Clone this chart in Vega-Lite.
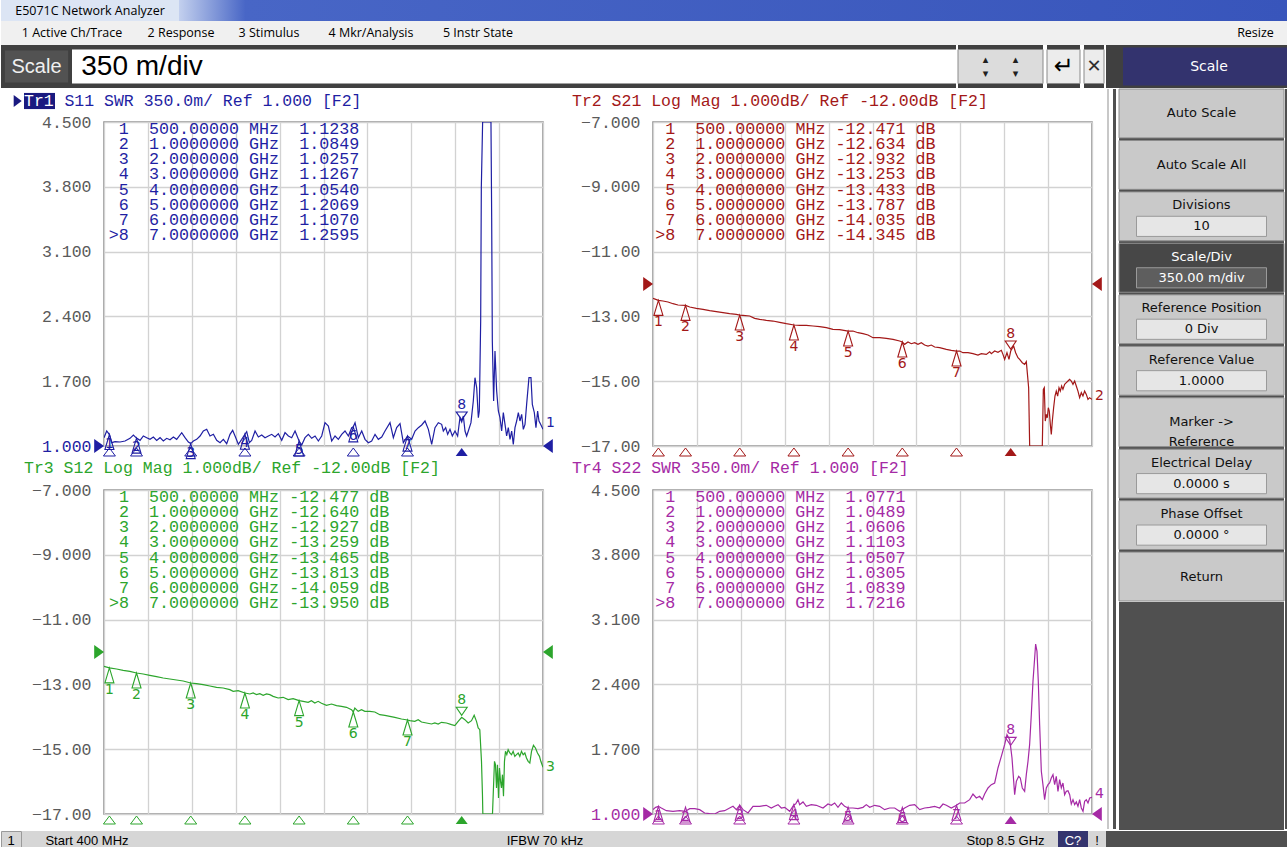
{
"$schema": "https://vega.github.io/schema/vega-lite/v6.json",
"padding": 0,
"background": "white",
"autosize": {"type": "pad"},
"config": {
  "view": {"stroke": null},
  "axis": {"domain": false, "ticks": false, "grid": true, "gridColor": "#d2d2d2", "gridWidth": 1.3, "labelFont": "Liberation Mono", "labelFontSize": 16.5, "labelPadding": 13, "labelFlush": false, "labelOverlap": false, "labelColor": "#5a5a5a"},
  "text": {"color": "#000000"}
},
"datasets": {
"t1": [{"f":0.4,"v":1.09},{"f":0.45,"v":1.162},{"f":0.5,"v":1.124},{"f":0.542,"v":1.036},{"f":0.604,"v":1.047},{"f":0.696,"v":1.043},{"f":0.788,"v":1.054},{"f":0.88,"v":1.083},{"f":0.942,"v":1.119},{"f":1.0,"v":1.085},{"f":1.065,"v":1.061},{"f":1.126,"v":1.108},{"f":1.188,"v":1.09},{"f":1.249,"v":1.072},{"f":1.311,"v":1.097},{"f":1.372,"v":1.061},{"f":1.434,"v":1.09},{"f":1.495,"v":1.054},{"f":1.557,"v":1.083},{"f":1.618,"v":1.068},{"f":1.68,"v":1.097},{"f":1.741,"v":1.072},{"f":1.834,"v":1.144},{"f":1.895,"v":1.09},{"f":1.957,"v":1.043},{"f":2.0,"v":1.026},{"f":2.049,"v":1.054},{"f":2.11,"v":1.072},{"f":2.172,"v":1.108},{"f":2.233,"v":1.162},{"f":2.295,"v":1.18},{"f":2.356,"v":1.108},{"f":2.418,"v":1.126},{"f":2.479,"v":1.061},{"f":2.541,"v":1.036},{"f":2.602,"v":1.072},{"f":2.664,"v":1.025},{"f":2.725,"v":1.126},{"f":2.774,"v":1.169},{"f":2.818,"v":1.108},{"f":2.879,"v":1.018},{"f":2.941,"v":1.072},{"f":3.0,"v":1.127},{"f":3.033,"v":1.155},{"f":3.082,"v":1.036},{"f":3.125,"v":1.061},{"f":3.187,"v":1.162},{"f":3.248,"v":1.097},{"f":3.31,"v":1.119},{"f":3.371,"v":1.09},{"f":3.433,"v":1.108},{"f":3.494,"v":1.126},{"f":3.556,"v":1.097},{"f":3.617,"v":1.133},{"f":3.679,"v":1.061},{"f":3.74,"v":1.144},{"f":3.802,"v":1.108},{"f":3.863,"v":1.09},{"f":3.925,"v":1.162},{"f":4.0,"v":1.054},{"f":4.048,"v":1.011},{"f":4.109,"v":1.09},{"f":4.171,"v":1.126},{"f":4.232,"v":1.083},{"f":4.294,"v":1.108},{"f":4.355,"v":1.054},{"f":4.417,"v":1.108},{"f":4.478,"v":1.252},{"f":4.54,"v":1.216},{"f":4.601,"v":1.054},{"f":4.663,"v":1.108},{"f":4.724,"v":1.072},{"f":4.786,"v":1.126},{"f":4.847,"v":1.162},{"f":4.909,"v":1.108},{"f":4.97,"v":1.198},{"f":5.0,"v":1.207},{"f":5.032,"v":1.252},{"f":5.093,"v":1.09},{"f":5.155,"v":1.162},{"f":5.216,"v":1.072},{"f":5.278,"v":1.036},{"f":5.339,"v":1.054},{"f":5.401,"v":1.126},{"f":5.462,"v":1.072},{"f":5.524,"v":1.097},{"f":5.585,"v":1.162},{"f":5.677,"v":1.252},{"f":5.739,"v":1.09},{"f":5.8,"v":1.198},{"f":5.862,"v":1.241},{"f":5.923,"v":1.036},{"f":6.0,"v":1.107},{"f":6.077,"v":1.072},{"f":6.139,"v":1.162},{"f":6.2,"v":1.198},{"f":6.262,"v":1.227},{"f":6.323,"v":1.27},{"f":6.385,"v":1.18},{"f":6.446,"v":1.018},{"f":6.507,"v":1.198},{"f":6.569,"v":1.252},{"f":6.63,"v":1.234},{"f":6.661,"v":1.162},{"f":6.704,"v":1.198},{"f":6.741,"v":1.126},{"f":6.784,"v":1.18},{"f":6.827,"v":1.108},{"f":6.876,"v":1.162},{"f":6.925,"v":1.108},{"f":6.968,"v":1.306},{"f":7.0,"v":1.26},{"f":7.03,"v":1.324},{"f":7.061,"v":1.162},{"f":7.091,"v":1.108},{"f":7.122,"v":1.162},{"f":7.171,"v":1.252},{"f":7.214,"v":1.486},{"f":7.245,"v":1.738},{"f":7.276,"v":1.63},{"f":7.307,"v":1.306},{"f":7.325,"v":1.378},{"f":7.35,"v":2.35},{"f":7.362,"v":3.79},{"f":7.386,"v":4.5},{"f":7.54,"v":4.5},{"f":7.553,"v":3.466},{"f":7.565,"v":2.134},{"f":7.589,"v":1.486},{"f":7.614,"v":2.026},{"f":7.645,"v":1.594},{"f":7.676,"v":1.378},{"f":7.706,"v":1.306},{"f":7.737,"v":1.162},{"f":7.768,"v":1.36},{"f":7.799,"v":1.234},{"f":7.829,"v":1.108},{"f":7.86,"v":1.198},{"f":7.891,"v":1.072},{"f":7.922,"v":1.162},{"f":7.952,"v":1.018},{"f":7.983,"v":1.198},{"f":8.014,"v":1.27},{"f":8.045,"v":1.36},{"f":8.075,"v":1.27},{"f":8.106,"v":1.342},{"f":8.137,"v":1.18},{"f":8.168,"v":1.234},{"f":8.198,"v":1.45},{"f":8.241,"v":1.738},{"f":8.278,"v":1.738},{"f":8.303,"v":1.45},{"f":8.34,"v":1.36},{"f":8.37,"v":1.198},{"f":8.401,"v":1.378},{"f":8.426,"v":1.27},{"f":8.456,"v":1.234},{"f":8.5,"v":1.18}],
"t2": [{"f":0.4,"v":-12.443},{"f":0.5,"v":-12.505},{"f":0.584,"v":-12.525},{"f":0.677,"v":-12.556},{"f":0.769,"v":-12.608},{"f":0.861,"v":-12.649},{"f":1.0,"v":-12.66},{"f":1.077,"v":-12.711},{"f":1.2,"v":-12.752},{"f":1.323,"v":-12.783},{"f":1.446,"v":-12.824},{"f":1.568,"v":-12.855},{"f":1.691,"v":-12.886},{"f":1.814,"v":-12.916},{"f":1.937,"v":-12.937},{"f":2.0,"v":-12.958},{"f":2.061,"v":-12.968},{"f":2.184,"v":-12.988},{"f":2.276,"v":-13.06},{"f":2.368,"v":-13.091},{"f":2.491,"v":-13.122},{"f":2.614,"v":-13.143},{"f":2.737,"v":-13.184},{"f":2.86,"v":-13.225},{"f":3.0,"v":-13.266},{"f":3.106,"v":-13.276},{"f":3.229,"v":-13.276},{"f":3.352,"v":-13.297},{"f":3.475,"v":-13.318},{"f":3.598,"v":-13.349},{"f":3.721,"v":-13.4},{"f":3.844,"v":-13.41},{"f":4.0,"v":-13.452},{"f":4.09,"v":-13.452},{"f":4.182,"v":-13.503},{"f":4.275,"v":-13.534},{"f":4.367,"v":-13.575},{"f":4.459,"v":-13.657},{"f":4.582,"v":-13.657},{"f":4.705,"v":-13.678},{"f":4.828,"v":-13.709},{"f":4.951,"v":-13.76},{"f":5.0,"v":-13.791},{"f":5.043,"v":-13.863},{"f":5.105,"v":-13.791},{"f":5.166,"v":-13.843},{"f":5.228,"v":-13.812},{"f":5.289,"v":-13.863},{"f":5.351,"v":-13.812},{"f":5.412,"v":-13.884},{"f":5.474,"v":-13.915},{"f":5.535,"v":-13.884},{"f":5.597,"v":-13.945},{"f":5.689,"v":-13.966},{"f":5.812,"v":-14.017},{"f":5.904,"v":-14.048},{"f":6.0,"v":-14.069},{"f":6.058,"v":-14.069},{"f":6.119,"v":-14.12},{"f":6.212,"v":-14.12},{"f":6.304,"v":-14.151},{"f":6.396,"v":-14.192},{"f":6.458,"v":-14.151},{"f":6.55,"v":-14.172},{"f":6.612,"v":-14.09},{"f":6.642,"v":-14.151},{"f":6.704,"v":-14.069},{"f":6.765,"v":-14.11},{"f":6.827,"v":-14.048},{"f":6.857,"v":-14.172},{"f":6.888,"v":-14.326},{"f":6.931,"v":-14.12},{"f":6.968,"v":-14.326},{"f":7.0,"v":-14.07},{"f":7.054,"v":-13.915},{"f":7.091,"v":-14.12},{"f":7.134,"v":-14.275},{"f":7.165,"v":-14.326},{"f":7.214,"v":-14.429},{"f":7.257,"v":-14.481},{"f":7.288,"v":-14.398},{"f":7.331,"v":-15.201},{"f":7.35,"v":-17},{"f":7.583,"v":-17},{"f":7.602,"v":-15.252},{"f":7.62,"v":-15.201},{"f":7.638,"v":-16.23},{"f":7.657,"v":-16.024},{"f":7.675,"v":-16.127},{"f":7.694,"v":-15.818},{"f":7.712,"v":-15.921},{"f":7.731,"v":-16.333},{"f":7.749,"v":-16.641},{"f":7.768,"v":-16.23},{"f":7.792,"v":-15.818},{"f":7.817,"v":-15.458},{"f":7.841,"v":-15.304},{"f":7.866,"v":-15.458},{"f":7.891,"v":-15.201},{"f":7.915,"v":-15.304},{"f":7.94,"v":-15.149},{"f":7.964,"v":-15.252},{"f":7.995,"v":-15.098},{"f":8.026,"v":-15.046},{"f":8.057,"v":-14.995},{"f":8.087,"v":-14.944},{"f":8.118,"v":-14.995},{"f":8.149,"v":-15.098},{"f":8.18,"v":-14.995},{"f":8.21,"v":-15.149},{"f":8.241,"v":-15.304},{"f":8.272,"v":-15.509},{"f":8.303,"v":-15.355},{"f":8.333,"v":-15.458},{"f":8.364,"v":-15.304},{"f":8.395,"v":-15.407},{"f":8.426,"v":-15.561},{"f":8.456,"v":-15.509},{"f":8.5,"v":-15.561}],
"t3": [{"f":0.4,"v":-12.442},{"f":0.5,"v":-12.49},{"f":0.631,"v":-12.524},{"f":0.754,"v":-12.565},{"f":0.877,"v":-12.596},{"f":1.0,"v":-12.648},{"f":1.123,"v":-12.678},{"f":1.246,"v":-12.72},{"f":1.369,"v":-12.761},{"f":1.492,"v":-12.802},{"f":1.615,"v":-12.833},{"f":1.738,"v":-12.864},{"f":1.861,"v":-12.895},{"f":2.0,"v":-12.956},{"f":2.107,"v":-12.977},{"f":2.23,"v":-13.008},{"f":2.353,"v":-13.049},{"f":2.476,"v":-13.09},{"f":2.599,"v":-13.111},{"f":2.722,"v":-13.162},{"f":2.783,"v":-13.214},{"f":2.875,"v":-13.193},{"f":3.0,"v":-13.265},{"f":3.091,"v":-13.296},{"f":3.152,"v":-13.265},{"f":3.214,"v":-13.316},{"f":3.275,"v":-13.286},{"f":3.337,"v":-13.337},{"f":3.398,"v":-13.296},{"f":3.46,"v":-13.316},{"f":3.521,"v":-13.368},{"f":3.613,"v":-13.419},{"f":3.706,"v":-13.399},{"f":3.798,"v":-13.471},{"f":3.89,"v":-13.44},{"f":4.0,"v":-13.502},{"f":4.075,"v":-13.522},{"f":4.167,"v":-13.553},{"f":4.228,"v":-13.502},{"f":4.29,"v":-13.574},{"f":4.351,"v":-13.522},{"f":4.413,"v":-13.584},{"f":4.505,"v":-13.646},{"f":4.598,"v":-13.605},{"f":4.69,"v":-13.656},{"f":4.782,"v":-13.677},{"f":4.874,"v":-13.707},{"f":4.967,"v":-13.779},{"f":5.0,"v":-13.851},{"f":5.028,"v":-13.728},{"f":5.09,"v":-13.831},{"f":5.151,"v":-13.779},{"f":5.213,"v":-13.831},{"f":5.305,"v":-13.831},{"f":5.397,"v":-13.851},{"f":5.489,"v":-13.934},{"f":5.582,"v":-13.954},{"f":5.674,"v":-13.985},{"f":5.766,"v":-14.016},{"f":5.889,"v":-14.068},{"f":6.0,"v":-14.098},{"f":6.043,"v":-14.119},{"f":6.135,"v":-14.14},{"f":6.197,"v":-14.088},{"f":6.258,"v":-14.16},{"f":6.35,"v":-14.191},{"f":6.443,"v":-14.222},{"f":6.504,"v":-14.191},{"f":6.566,"v":-14.222},{"f":6.627,"v":-14.17},{"f":6.719,"v":-14.191},{"f":6.812,"v":-14.243},{"f":6.873,"v":-14.273},{"f":6.935,"v":-14.14},{"f":7.0,"v":-14.016},{"f":7.058,"v":-14.088},{"f":7.119,"v":-14.191},{"f":7.181,"v":-14.119},{"f":7.23,"v":-13.954},{"f":7.273,"v":-14.14},{"f":7.304,"v":-14.345},{"f":7.334,"v":-14.397},{"f":7.365,"v":-15.374},{"f":7.383,"v":-16.403},{"f":7.39,"v":-17},{"f":7.568,"v":-17},{"f":7.586,"v":-16.198},{"f":7.605,"v":-15.374},{"f":7.623,"v":-15.477},{"f":7.642,"v":-16.198},{"f":7.66,"v":-15.477},{"f":7.679,"v":-16.506},{"f":7.697,"v":-15.58},{"f":7.716,"v":-15.992},{"f":7.734,"v":-16.198},{"f":7.752,"v":-15.786},{"f":7.771,"v":-16.455},{"f":7.789,"v":-15.374},{"f":7.808,"v":-15.066},{"f":7.832,"v":-15.169},{"f":7.857,"v":-15.014},{"f":7.888,"v":-15.117},{"f":7.919,"v":-15.169},{"f":7.949,"v":-15.066},{"f":7.98,"v":-15.22},{"f":8.011,"v":-15.169},{"f":8.042,"v":-15.117},{"f":8.072,"v":-15.22},{"f":8.103,"v":-15.066},{"f":8.134,"v":-15.169},{"f":8.165,"v":-15.117},{"f":8.195,"v":-15.272},{"f":8.226,"v":-15.374},{"f":8.257,"v":-15.426},{"f":8.288,"v":-15.066},{"f":8.324,"v":-14.88},{"f":8.361,"v":-14.963},{"f":8.398,"v":-15.117},{"f":8.435,"v":-15.22},{"f":8.46,"v":-15.374},{"f":8.5,"v":-15.56}],
"t4": [{"f":0.4,"v":1.047},{"f":0.449,"v":1.072},{"f":0.5,"v":1.083},{"f":0.554,"v":1.065},{"f":0.646,"v":1.036},{"f":0.769,"v":1.029},{"f":0.892,"v":1.036},{"f":1.0,"v":1.03},{"f":1.077,"v":1.058},{"f":1.169,"v":1.058},{"f":1.261,"v":1.047},{"f":1.353,"v":1.011},{"f":1.446,"v":1.004},{"f":1.538,"v":1.0},{"f":1.63,"v":1.029},{"f":1.722,"v":1.036},{"f":1.814,"v":1.065},{"f":1.876,"v":1.083},{"f":1.938,"v":1.047},{"f":2.0,"v":1.094},{"f":2.061,"v":1.047},{"f":2.153,"v":1.011},{"f":2.245,"v":1.083},{"f":2.368,"v":1.083},{"f":2.491,"v":1.094},{"f":2.583,"v":1.065},{"f":2.645,"v":1.083},{"f":2.707,"v":1.101},{"f":2.768,"v":1.065},{"f":2.83,"v":1.072},{"f":2.922,"v":1.029},{"f":3.0,"v":1.101},{"f":3.032,"v":1.108},{"f":3.075,"v":1.155},{"f":3.106,"v":1.101},{"f":3.168,"v":1.13},{"f":3.229,"v":1.083},{"f":3.321,"v":1.101},{"f":3.413,"v":1.094},{"f":3.537,"v":1.065},{"f":3.629,"v":1.108},{"f":3.69,"v":1.094},{"f":3.752,"v":1.119},{"f":3.813,"v":1.072},{"f":3.875,"v":1.119},{"f":3.936,"v":1.083},{"f":4.0,"v":1.065},{"f":4.09,"v":1.065},{"f":4.182,"v":1.058},{"f":4.275,"v":1.072},{"f":4.336,"v":1.101},{"f":4.398,"v":1.072},{"f":4.49,"v":1.094},{"f":4.582,"v":1.083},{"f":4.674,"v":1.047},{"f":4.766,"v":1.065},{"f":4.859,"v":1.065},{"f":4.951,"v":1.029},{"f":5.0,"v":1.045},{"f":5.043,"v":1.065},{"f":5.136,"v":1.094},{"f":5.228,"v":1.101},{"f":5.32,"v":1.047},{"f":5.412,"v":1.065},{"f":5.505,"v":1.072},{"f":5.597,"v":1.083},{"f":5.689,"v":1.065},{"f":5.751,"v":1.108},{"f":5.812,"v":1.094},{"f":5.904,"v":1.065},{"f":6.0,"v":1.094},{"f":6.058,"v":1.119},{"f":6.15,"v":1.119},{"f":6.243,"v":1.155},{"f":6.304,"v":1.216},{"f":6.366,"v":1.173},{"f":6.427,"v":1.191},{"f":6.476,"v":1.155},{"f":6.519,"v":1.216},{"f":6.581,"v":1.281},{"f":6.642,"v":1.317},{"f":6.704,"v":1.335},{"f":6.765,"v":1.497},{"f":6.827,"v":1.623},{"f":6.888,"v":1.749},{"f":6.931,"v":1.857},{"f":6.981,"v":1.803},{"f":7.0,"v":1.72},{"f":7.024,"v":1.605},{"f":7.073,"v":1.209},{"f":7.104,"v":1.353},{"f":7.147,"v":1.407},{"f":7.177,"v":1.389},{"f":7.214,"v":1.281},{"f":7.257,"v":1.245},{"f":7.288,"v":1.425},{"f":7.319,"v":1.569},{"f":7.349,"v":1.749},{"f":7.38,"v":2.073},{"f":7.411,"v":2.433},{"f":7.442,"v":2.685},{"f":7.46,"v":2.836},{"f":7.485,"v":2.757},{"f":7.509,"v":2.433},{"f":7.534,"v":1.965},{"f":7.565,"v":1.461},{"f":7.595,"v":1.317},{"f":7.626,"v":1.155},{"f":7.657,"v":1.281},{"f":7.688,"v":1.317},{"f":7.718,"v":1.335},{"f":7.749,"v":1.389},{"f":7.78,"v":1.425},{"f":7.811,"v":1.317},{"f":7.841,"v":1.407},{"f":7.872,"v":1.245},{"f":7.903,"v":1.371},{"f":7.934,"v":1.281},{"f":7.964,"v":1.335},{"f":7.995,"v":1.209},{"f":8.026,"v":1.245},{"f":8.057,"v":1.252},{"f":8.088,"v":1.209},{"f":8.118,"v":1.108},{"f":8.149,"v":1.155},{"f":8.18,"v":1.101},{"f":8.211,"v":1.13},{"f":8.241,"v":1.083},{"f":8.272,"v":1.155},{"f":8.303,"v":1.065},{"f":8.334,"v":1.029},{"f":8.364,"v":1.137},{"f":8.395,"v":1.155},{"f":8.426,"v":1.119},{"f":8.457,"v":1.173},{"f":8.5,"v":1.18}],
"m1": [{"m":1,"f":0.5,"v":1.124,"row":"\u00a01\u00a0\u00a0500.00000\u00a0MHz\u00a0\u00a01.1238"},{"m":2,"f":1,"v":1.085,"row":"\u00a02\u00a0\u00a01.0000000\u00a0GHz\u00a0\u00a01.0849"},{"m":3,"f":2,"v":1.026,"row":"\u00a03\u00a0\u00a02.0000000\u00a0GHz\u00a0\u00a01.0257"},{"m":4,"f":3,"v":1.127,"row":"\u00a04\u00a0\u00a03.0000000\u00a0GHz\u00a0\u00a01.1267"},{"m":5,"f":4,"v":1.054,"row":"\u00a05\u00a0\u00a04.0000000\u00a0GHz\u00a0\u00a01.0540"},{"m":6,"f":5,"v":1.207,"row":"\u00a06\u00a0\u00a05.0000000\u00a0GHz\u00a0\u00a01.2069"},{"m":7,"f":6,"v":1.107,"row":"\u00a07\u00a0\u00a06.0000000\u00a0GHz\u00a0\u00a01.1070"},{"m":8,"f":7,"v":1.26,"row":">8\u00a0\u00a07.0000000\u00a0GHz\u00a0\u00a01.2595"}],
"m2": [{"m":1,"f":0.5,"v":-12.505,"row":"\u00a01\u00a0\u00a0500.00000\u00a0MHz\u00a0-12.471\u00a0dB"},{"m":2,"f":1,"v":-12.66,"row":"\u00a02\u00a0\u00a01.0000000\u00a0GHz\u00a0-12.634\u00a0dB"},{"m":3,"f":2,"v":-12.958,"row":"\u00a03\u00a0\u00a02.0000000\u00a0GHz\u00a0-12.932\u00a0dB"},{"m":4,"f":3,"v":-13.266,"row":"\u00a04\u00a0\u00a03.0000000\u00a0GHz\u00a0-13.253\u00a0dB"},{"m":5,"f":4,"v":-13.452,"row":"\u00a05\u00a0\u00a04.0000000\u00a0GHz\u00a0-13.433\u00a0dB"},{"m":6,"f":5,"v":-13.791,"row":"\u00a06\u00a0\u00a05.0000000\u00a0GHz\u00a0-13.787\u00a0dB"},{"m":7,"f":6,"v":-14.069,"row":"\u00a07\u00a0\u00a06.0000000\u00a0GHz\u00a0-14.035\u00a0dB"},{"m":8,"f":7,"v":-14.07,"row":">8\u00a0\u00a07.0000000\u00a0GHz\u00a0-14.345\u00a0dB"}],
"m3": [{"m":1,"f":0.5,"v":-12.49,"row":"\u00a01\u00a0\u00a0500.00000\u00a0MHz\u00a0-12.477\u00a0dB"},{"m":2,"f":1,"v":-12.648,"row":"\u00a02\u00a0\u00a01.0000000\u00a0GHz\u00a0-12.640\u00a0dB"},{"m":3,"f":2,"v":-12.956,"row":"\u00a03\u00a0\u00a02.0000000\u00a0GHz\u00a0-12.927\u00a0dB"},{"m":4,"f":3,"v":-13.265,"row":"\u00a04\u00a0\u00a03.0000000\u00a0GHz\u00a0-13.259\u00a0dB"},{"m":5,"f":4,"v":-13.502,"row":"\u00a05\u00a0\u00a04.0000000\u00a0GHz\u00a0-13.465\u00a0dB"},{"m":6,"f":5,"v":-13.851,"row":"\u00a06\u00a0\u00a05.0000000\u00a0GHz\u00a0-13.813\u00a0dB"},{"m":7,"f":6,"v":-14.098,"row":"\u00a07\u00a0\u00a06.0000000\u00a0GHz\u00a0-14.059\u00a0dB"},{"m":8,"f":7,"v":-14.016,"row":">8\u00a0\u00a07.0000000\u00a0GHz\u00a0-13.950\u00a0dB"}],
"m4": [{"m":1,"f":0.5,"v":1.083,"row":"\u00a01\u00a0\u00a0500.00000\u00a0MHz\u00a0\u00a01.0771"},{"m":2,"f":1,"v":1.075,"row":"\u00a02\u00a0\u00a01.0000000\u00a0GHz\u00a0\u00a01.0489"},{"m":3,"f":2,"v":1.094,"row":"\u00a03\u00a0\u00a02.0000000\u00a0GHz\u00a0\u00a01.0606"},{"m":4,"f":3,"v":1.101,"row":"\u00a04\u00a0\u00a03.0000000\u00a0GHz\u00a0\u00a01.1103"},{"m":5,"f":4,"v":1.075,"row":"\u00a05\u00a0\u00a04.0000000\u00a0GHz\u00a0\u00a01.0507"},{"m":6,"f":5,"v":1.07,"row":"\u00a06\u00a0\u00a05.0000000\u00a0GHz\u00a0\u00a01.0305"},{"m":7,"f":6,"v":1.094,"row":"\u00a07\u00a0\u00a06.0000000\u00a0GHz\u00a0\u00a01.0839"},{"m":8,"f":7,"v":1.72,"row":">8\u00a0\u00a07.0000000\u00a0GHz\u00a0\u00a01.7216"}]
},
"spacing": 0,
"vconcat": [
  {"hconcat": [
    {"width": 178, "height": 21, "view": {"fill": "#dce5f4"}, "data": {"values": [{"t": "E5071C Network Analyzer"}]},
     "mark": {"type": "text", "font": "Open Sans", "fontSize": 12.5}, "encoding": {"text": {"field": "t", "type": "nominal"}}},
    {"width": 1109, "height": 21, "data": {"values": [{}]},
     "mark": {"type": "rect", "color": {"gradient": "linear", "x1": 0, "x2": 1, "y1": 0, "y2": 0, "stops": [{"offset": 0, "color": "#c3d0ee"}, {"offset": 0.06, "color": "#4866c6"}, {"offset": 1, "color": "#3855bb"}]}}}
  ], "spacing": 0},
  {"hconcat": [
    {"width": 142, "height": 24, "view": {"fill": "#f0f0f0"}, "data": {"values": [{"t": "1 Active Ch/Trace"}]}, "mark": {"type": "text", "font": "Open Sans", "fontSize": 12.5}, "encoding": {"text": {"field": "t", "type": "nominal"}}},
    {"width": 76, "height": 24, "view": {"fill": "#f0f0f0"}, "data": {"values": [{"t": "2 Response"}]}, "mark": {"type": "text", "font": "Open Sans", "fontSize": 12.5}, "encoding": {"text": {"field": "t", "type": "nominal"}}},
    {"width": 100, "height": 24, "view": {"fill": "#f0f0f0"}, "data": {"values": [{"t": "3 Stimulus"}]}, "mark": {"type": "text", "font": "Open Sans", "fontSize": 12.5}, "encoding": {"text": {"field": "t", "type": "nominal"}}},
    {"width": 104, "height": 24, "view": {"fill": "#f0f0f0"}, "data": {"values": [{"t": "4 Mkr/Analysis"}]}, "mark": {"type": "text", "font": "Open Sans", "fontSize": 12.5}, "encoding": {"text": {"field": "t", "type": "nominal"}}},
    {"width": 110, "height": 24, "view": {"fill": "#f0f0f0"}, "data": {"values": [{"t": "5 Instr State"}]}, "mark": {"type": "text", "font": "Open Sans", "fontSize": 12.5}, "encoding": {"text": {"field": "t", "type": "nominal"}}},
    {"width": 690, "height": 24, "view": {"fill": "#f0f0f0"}, "data": {"values": [{}]}, "mark": {"type": "point", "opacity": 0}},
    {"width": 65, "height": 24, "view": {"fill": "#f0f0f0"}, "data": {"values": [{"t": "Resize"}]}, "mark": {"type": "text", "font": "Open Sans", "fontSize": 12.5}, "encoding": {"text": {"field": "t", "type": "nominal"}}}
  ], "spacing": 0},
  {"hconcat": [
    {"width": 71, "height": 43, "view": {"fill": "#404040"}, "data": {"values": [{"t": "Scale"}]},
     "layer": [
       {"mark": {"type": "point", "shape": "M-0.89,-0.45L0.89,-0.45L0.89,0.45L-0.89,0.45Z", "size": 5041, "filled": true, "color": "#525252", "opacity": 1}},
       {"mark": {"type": "text", "font": "Liberation Sans", "fontSize": 20, "color": "#f0f0f0"}, "encoding": {"text": {"field": "t", "type": "nominal"}}}
     ]},
    {"width": 140, "height": 43, "view": {"fill": "#404040"}, "data": {"values": [{"t": "350 m/div"}]},
     "layer": [
       {"mark": {"type": "point", "shape": "M-1,-0.243L1,-0.243L1,0.243L-1,0.243Z", "size": 19600, "filled": true, "color": "#ffffff", "opacity": 1}},
       {"mark": {"type": "text", "font": "Liberation Sans", "fontSize": 28}, "encoding": {"text": {"field": "t", "type": "nominal"}}}
     ]},
    {"width": 744, "height": 43, "view": {"fill": "#404040"}, "data": {"values": [{}]},
     "mark": {"type": "point", "shape": "M-1,-0.0457L1,-0.0457L1,0.0457L-1,0.0457Z", "size": 553536, "filled": true, "color": "#ffffff", "opacity": 1}},
    {"width": 85, "height": 43, "view": {"fill": "#404040"}, "data": {"values": [{"u": "\u25b4\u00a0\u00a0\u00a0\u00a0\u00a0\u00a0\u00a0\u25b4", "d": "\u25be\u00a0\u00a0\u00a0\u00a0\u00a0\u00a0\u00a0\u25be"}]},
     "layer": [
       {"mark": {"type": "point", "shape": "M-1,-0.4L1,-0.4L1,0.4L-1,0.4Z", "size": 7225, "filled": true, "color": "#dcdcdc", "stroke": "#8a8a8a", "strokeWidth": 1, "opacity": 1}},
       {"mark": {"type": "text", "font": "DejaVu Sans", "fontSize": 11, "dy": -7, "color": "#202020"}, "encoding": {"text": {"field": "u", "type": "nominal"}}},
       {"mark": {"type": "text", "font": "DejaVu Sans", "fontSize": 11, "dy": 7, "color": "#202020"}, "encoding": {"text": {"field": "d", "type": "nominal"}}}
     ]},
    {"width": 33, "height": 43, "view": {"fill": "#404040"}, "data": {"values": [{"t": "\u21b5"}]},
     "layer": [
       {"mark": {"type": "point", "shape": "M-1,-1.03L1,-1.03L1,1.03L-1,1.03Z", "size": 1089, "filled": true, "color": "#ececec", "stroke": "#8a8a8a", "strokeWidth": 1, "opacity": 1}},
       {"mark": {"type": "text", "font": "DejaVu Sans", "fontSize": 24, "color": "#000000"}, "encoding": {"text": {"field": "t", "type": "nominal"}}}
     ]},
    {"width": 20, "height": 43, "view": {"fill": "#404040"}, "data": {"values": [{"t": "\u2715"}]},
     "layer": [
       {"mark": {"type": "point", "shape": "M-1,-1.7L1,-1.7L1,1.7L-1,1.7Z", "size": 400, "filled": true, "color": "#ececec", "stroke": "#8a8a8a", "strokeWidth": 1, "opacity": 1}},
       {"mark": {"type": "text", "font": "DejaVu Sans", "fontSize": 18, "color": "#303030"}, "encoding": {"text": {"field": "t", "type": "nominal"}}}
     ]},
    {"width": 17, "height": 43, "view": {"fill": "#404040"}, "data": {"values": [{}]}, "mark": {"type": "point", "opacity": 0}},
    {"width": 172, "height": 43, "view": {"fill": "#404040"}, "data": {"values": [{"t": "Scale"}]},
     "layer": [
       {"mark": {"type": "point", "shape": "M-1,-0.221L1,-0.221L1,0.221L-1,0.221Z", "size": 29584, "filled": true, "color": "#33336e", "opacity": 1}},
       {"mark": {"type": "text", "font": "DejaVu Sans", "fontSize": 14, "color": "#ffffff"}, "encoding": {"text": {"field": "t", "type": "nominal"}}}
     ]},
    {"width": 5, "height": 43, "view": {"fill": "#404040"}, "data": {"values": [{}]}, "mark": {"type": "point", "opacity": 0}}
  ], "spacing": 0},
  {"hconcat": [
    {"width": 12, "height": 740, "data": {"values": [{}]}, "mark": {"type": "point", "opacity": 0}},
    {"hconcat": [
      {"vconcat": [
        {"width": 439, "height": 24,
         "layer": [
           {"data": {"values": [{}]}, "mark": {"type": "point", "shape": "M-1,-0.52L1,-0.52L1,0.52L-1,0.52Z", "size": 961, "filled": true, "color": "#1a1a80", "opacity": 1},
            "encoding": {"x": {"datum": -0.79, "scale": {"domain": [0.4, 8.5], "nice": false, "zero": false}, "axis": null}}},
           {"data": {"values": [{}]}, "mark": {"type": "point", "shape": "M-1,-1.5L1,0L-1,1.5Z", "size": 64, "filled": true, "color": "#1a1a80", "opacity": 1},
            "encoding": {"x": {"datum": -1.192}}},
           {"data": {"values": [{"t": "Tr1"}]}, "mark": {"type": "text", "align": "left", "font": "Liberation Mono", "fontSize": 16.5, "color": "#ffffff"},
            "encoding": {"x": {"datum": -1.076}, "text": {"field": "t", "type": "nominal"}}},
           {"data": {"values": [{"t": "S11 SWR 350.0m/ Ref 1.000 [F2]"}]}, "mark": {"type": "text", "align": "left", "font": "Liberation Mono", "fontSize": 16.5, "color": "#1f1fa3"},
            "encoding": {"x": {"datum": -0.33}, "text": {"field": "t", "type": "nominal"}}}
         ]},
        {"width": 439, "height": 9, "data": {"values": [{}]}, "mark": {"type": "point", "opacity": 0}},
        {"width": 439, "height": 324,
         "view": {"fill": "white", "stroke": "#8a8a8a", "strokeWidth": 1.5},
         "layer": [
          {"layer": [
            {"data": {"name": "t1"}, "mark": {"type": "line", "color": "#1f1fa3", "strokeWidth": 1.2, "clip": true},
             "encoding": {"x": {"field": "f", "type": "quantitative", "scale": {"domain": [0.4, 8.5], "nice": false, "zero": false}, "axis": {"values": [0.4,1.21,2.02,2.83,3.64,4.45,5.26,6.07,6.88,7.69,8.5], "labels": false, "title": null}},
                          "y": {"field": "v", "type": "quantitative", "scale": {"domain": [1, 4.5], "nice": false, "zero": false}, "axis": {"values": [1,1.35,1.7,2.05,2.4,2.75,3.1,3.45,3.8,4.15,4.5], "format": ".4r", "title": null, "labelColor": {"condition": {"test": "datum.value == 1", "value": "#1f1fa3"}, "value": "#5a5a5a"}}}}},
            {"data": {"name": "m1"}, "transform": [{"filter": "datum.m < 8"}], "mark": {"type": "point", "shape": "M0,0L-0.9,3L0.9,3Z", "size": 100, "filled": false, "strokeWidth": 1.1, "color": "#1f1fa3", "opacity": 1},
             "encoding": {"x": {"field": "f", "type": "quantitative"}, "y": {"field": "v", "type": "quantitative"}}},
            {"data": {"name": "m1"}, "transform": [{"filter": "datum.m < 8"}], "mark": {"type": "text", "dy": 9, "font": "DejaVu Sans", "fontSize": 14, "color": "#1f1fa3"},
             "encoding": {"x": {"field": "f", "type": "quantitative"}, "y": {"field": "v", "type": "quantitative"}, "text": {"field": "m", "type": "nominal"}}},
            {"data": {"name": "m1"}, "transform": [{"filter": "datum.m == 8"}], "mark": {"type": "point", "shape": "M0,-0.4L-1.1,-2L1.1,-2Z", "size": 100, "filled": false, "strokeWidth": 1.1, "color": "#1f1fa3", "opacity": 1},
             "encoding": {"x": {"field": "f", "type": "quantitative"}, "y": {"field": "v", "type": "quantitative"}}},
            {"data": {"name": "m1"}, "transform": [{"filter": "datum.m == 8"}], "mark": {"type": "text", "dy": -17, "font": "DejaVu Sans", "fontSize": 14, "color": "#1f1fa3"},
             "encoding": {"x": {"field": "f", "type": "quantitative"}, "y": {"field": "v", "type": "quantitative"}, "text": {"field": "m", "type": "nominal"}}},
            {"data": {"name": "m1"}, "transform": [{"filter": "datum.m < 8"}], "mark": {"type": "point", "shape": "M0,0.4L-1.2,2L1.2,2Z", "size": 100, "filled": false, "strokeWidth": 1, "color": "#1f1fa3", "opacity": 1},
             "encoding": {"x": {"field": "f", "type": "quantitative"}, "y": {"datum": 1}}},
            {"data": {"name": "m1"}, "transform": [{"filter": "datum.m == 8"}], "mark": {"type": "point", "shape": "M0,0.4L-1.2,2L1.2,2Z", "size": 100, "filled": true, "color": "#1f1fa3", "opacity": 1},
             "encoding": {"x": {"field": "f", "type": "quantitative"}, "y": {"datum": 1}}},
            {"data": {"values": [{}]}, "mark": {"type": "point", "shape": "M-1.4,-1L0,0L-1.4,1Z", "size": 196, "filled": true, "color": "#1f1fa3", "opacity": 1}, "encoding": {"x": {"datum": 0.4}, "y": {"datum": 1}}},
            {"data": {"values": [{}]}, "mark": {"type": "point", "shape": "M1.4,-1L0,0L1.4,1Z", "size": 196, "filled": true, "color": "#1f1fa3", "opacity": 1}, "encoding": {"x": {"datum": 8.5}, "y": {"datum": 1}}},
            {"data": {"name": "t1"}, "transform": [{"filter": "datum.f == 8.5"}], "mark": {"type": "text", "align": "left", "dx": 3, "dy": -6, "font": "DejaVu Sans", "fontSize": 14, "color": "#1f1fa3"},
             "encoding": {"x": {"field": "f", "type": "quantitative"}, "y": {"field": "v", "type": "quantitative"}, "text": {"value": "1"}}}
          ]},
          {"data": {"name": "m1"}, "mark": {"type": "text", "align": "right", "baseline": "middle", "font": "Liberation Mono", "fontSize": 16.7, "color": "#1f1fa3"},
           "encoding": {"x": {"datum": 5.109}, "y": {"field": "m", "type": "quantitative", "scale": {"domain": [0.538, 21.94], "reverse": true, "nice": false, "zero": false}, "axis": null}, "text": {"field": "row", "type": "nominal"}}}
         ],
         "resolve": {"scale": {"y": "independent"}}},
        {"width": 439, "height": 44, "data": {"values": [{"t": "Tr3 S12 Log Mag 1.000dB/ Ref -12.00dB [F2]"}]},
         "mark": {"type": "text", "align": "left", "font": "Liberation Mono", "fontSize": 16.5, "color": "#2ca52c"},
         "encoding": {"x": {"datum": -1.076, "scale": {"domain": [0.4, 8.5], "nice": false, "zero": false}, "axis": null}, "text": {"field": "t", "type": "nominal"}}},
        {"width": 439, "height": 324,
         "view": {"fill": "white", "stroke": "#8a8a8a", "strokeWidth": 1.5},
         "layer": [
          {"layer": [
            {"data": {"name": "t3"}, "mark": {"type": "line", "color": "#2ca52c", "strokeWidth": 1.2, "clip": true},
             "encoding": {"x": {"field": "f", "type": "quantitative", "scale": {"domain": [0.4, 8.5], "nice": false, "zero": false}, "axis": {"values": [0.4,1.21,2.02,2.83,3.64,4.45,5.26,6.07,6.88,7.69,8.5], "labels": false, "title": null}},
                          "y": {"field": "v", "type": "quantitative", "scale": {"domain": [-17, -7], "nice": false, "zero": false}, "axis": {"values": [-17,-16,-15,-14,-13,-12,-11,-10,-9,-8,-7], "format": ".4r", "title": null, "labelColor": {"condition": {"test": "datum.value == -12", "value": "#2ca52c"}, "value": "#5a5a5a"}}}}},
            {"data": {"name": "m3"}, "transform": [{"filter": "datum.m < 8"}], "mark": {"type": "point", "shape": "M0,0L-0.9,3L0.9,3Z", "size": 100, "filled": false, "strokeWidth": 1.1, "color": "#2ca52c", "opacity": 1},
             "encoding": {"x": {"field": "f", "type": "quantitative"}, "y": {"field": "v", "type": "quantitative"}}},
            {"data": {"name": "m3"}, "transform": [{"filter": "datum.m < 8"}], "mark": {"type": "text", "dy": 22, "font": "DejaVu Sans", "fontSize": 14, "color": "#2ca52c"},
             "encoding": {"x": {"field": "f", "type": "quantitative"}, "y": {"field": "v", "type": "quantitative"}, "text": {"field": "m", "type": "nominal"}}},
            {"data": {"name": "m3"}, "transform": [{"filter": "datum.m == 8"}], "mark": {"type": "point", "shape": "M0,-0.4L-1.1,-2L1.1,-2Z", "size": 100, "filled": false, "strokeWidth": 1.1, "color": "#2ca52c", "opacity": 1},
             "encoding": {"x": {"field": "f", "type": "quantitative"}, "y": {"field": "v", "type": "quantitative"}}},
            {"data": {"name": "m3"}, "transform": [{"filter": "datum.m == 8"}], "mark": {"type": "text", "dy": -17, "font": "DejaVu Sans", "fontSize": 14, "color": "#2ca52c"},
             "encoding": {"x": {"field": "f", "type": "quantitative"}, "y": {"field": "v", "type": "quantitative"}, "text": {"field": "m", "type": "nominal"}}},
            {"data": {"name": "m3"}, "transform": [{"filter": "datum.m < 8"}], "mark": {"type": "point", "shape": "M0,0.4L-1.2,2L1.2,2Z", "size": 100, "filled": false, "strokeWidth": 1, "color": "#2ca52c", "opacity": 1},
             "encoding": {"x": {"field": "f", "type": "quantitative"}, "y": {"datum": -17}}},
            {"data": {"name": "m3"}, "transform": [{"filter": "datum.m == 8"}], "mark": {"type": "point", "shape": "M0,0.4L-1.2,2L1.2,2Z", "size": 100, "filled": true, "color": "#2ca52c", "opacity": 1},
             "encoding": {"x": {"field": "f", "type": "quantitative"}, "y": {"datum": -17}}},
            {"data": {"values": [{}]}, "mark": {"type": "point", "shape": "M-1.4,-1L0,0L-1.4,1Z", "size": 196, "filled": true, "color": "#2ca52c", "opacity": 1}, "encoding": {"x": {"datum": 0.4}, "y": {"datum": -12}}},
            {"data": {"values": [{}]}, "mark": {"type": "point", "shape": "M1.4,-1L0,0L1.4,1Z", "size": 196, "filled": true, "color": "#2ca52c", "opacity": 1}, "encoding": {"x": {"datum": 8.5}, "y": {"datum": -12}}},
            {"data": {"name": "t3"}, "transform": [{"filter": "datum.f == 8.5"}], "mark": {"type": "text", "align": "left", "dx": 3, "dy": 0, "font": "DejaVu Sans", "fontSize": 14, "color": "#2ca52c"},
             "encoding": {"x": {"field": "f", "type": "quantitative"}, "y": {"field": "v", "type": "quantitative"}, "text": {"value": "3"}}}
          ]},
          {"data": {"name": "m3"}, "mark": {"type": "text", "align": "right", "baseline": "middle", "font": "Liberation Mono", "fontSize": 16.7, "color": "#2ca52c"},
           "encoding": {"x": {"datum": 5.664}, "y": {"field": "m", "type": "quantitative", "scale": {"domain": [0.538, 21.94], "reverse": true, "nice": false, "zero": false}, "axis": null}, "text": {"field": "row", "type": "nominal"}}}
         ],
         "resolve": {"scale": {"y": "independent"}}}
      ], "spacing": 0, "bounds": "flush"},
      {"vconcat": [
        {"width": 439, "height": 24, "data": {"values": [{"t": "Tr2 S21 Log Mag 1.000dB/ Ref -12.00dB [F2]"}]},
         "mark": {"type": "text", "align": "left", "font": "Liberation Mono", "fontSize": 16.5, "color": "#a31818"},
         "encoding": {"x": {"datum": -1.0945, "scale": {"domain": [0.4, 8.5], "nice": false, "zero": false}, "axis": null}, "text": {"field": "t", "type": "nominal"}}},
        {"width": 439, "height": 9, "data": {"values": [{}]}, "mark": {"type": "point", "opacity": 0}},
        {"width": 439, "height": 324,
         "view": {"fill": "white", "stroke": "#8a8a8a", "strokeWidth": 1.5},
         "layer": [
          {"layer": [
            {"data": {"name": "t2"}, "mark": {"type": "line", "color": "#a31818", "strokeWidth": 1.2, "clip": true},
             "encoding": {"x": {"field": "f", "type": "quantitative", "scale": {"domain": [0.4, 8.5], "nice": false, "zero": false}, "axis": {"values": [0.4,1.21,2.02,2.83,3.64,4.45,5.26,6.07,6.88,7.69,8.5], "labels": false, "title": null}},
                          "y": {"field": "v", "type": "quantitative", "scale": {"domain": [-17, -7], "nice": false, "zero": false}, "axis": {"values": [-17,-16,-15,-14,-13,-12,-11,-10,-9,-8,-7], "format": ".4r", "title": null, "labelColor": {"condition": {"test": "datum.value == -12", "value": "#a31818"}, "value": "#5a5a5a"}}}}},
            {"data": {"name": "m2"}, "transform": [{"filter": "datum.m < 8"}], "mark": {"type": "point", "shape": "M0,0L-0.9,3L0.9,3Z", "size": 100, "filled": false, "strokeWidth": 1.1, "color": "#a31818", "opacity": 1},
             "encoding": {"x": {"field": "f", "type": "quantitative"}, "y": {"field": "v", "type": "quantitative"}}},
            {"data": {"name": "m2"}, "transform": [{"filter": "datum.m < 8"}], "mark": {"type": "text", "dy": 22, "font": "DejaVu Sans", "fontSize": 14, "color": "#a31818"},
             "encoding": {"x": {"field": "f", "type": "quantitative"}, "y": {"field": "v", "type": "quantitative"}, "text": {"field": "m", "type": "nominal"}}},
            {"data": {"name": "m2"}, "transform": [{"filter": "datum.m == 8"}], "mark": {"type": "point", "shape": "M0,-0.4L-1.1,-2L1.1,-2Z", "size": 100, "filled": false, "strokeWidth": 1.1, "color": "#a31818", "opacity": 1},
             "encoding": {"x": {"field": "f", "type": "quantitative"}, "y": {"field": "v", "type": "quantitative"}}},
            {"data": {"name": "m2"}, "transform": [{"filter": "datum.m == 8"}], "mark": {"type": "text", "dy": -17, "font": "DejaVu Sans", "fontSize": 14, "color": "#a31818"},
             "encoding": {"x": {"field": "f", "type": "quantitative"}, "y": {"field": "v", "type": "quantitative"}, "text": {"field": "m", "type": "nominal"}}},
            {"data": {"name": "m2"}, "transform": [{"filter": "datum.m < 8"}], "mark": {"type": "point", "shape": "M0,0.4L-1.2,2L1.2,2Z", "size": 100, "filled": false, "strokeWidth": 1, "color": "#a31818", "opacity": 1},
             "encoding": {"x": {"field": "f", "type": "quantitative"}, "y": {"datum": -17}}},
            {"data": {"name": "m2"}, "transform": [{"filter": "datum.m == 8"}], "mark": {"type": "point", "shape": "M0,0.4L-1.2,2L1.2,2Z", "size": 100, "filled": true, "color": "#a31818", "opacity": 1},
             "encoding": {"x": {"field": "f", "type": "quantitative"}, "y": {"datum": -17}}},
            {"data": {"values": [{}]}, "mark": {"type": "point", "shape": "M-1.4,-1L0,0L-1.4,1Z", "size": 196, "filled": true, "color": "#a31818", "opacity": 1}, "encoding": {"x": {"datum": 0.4}, "y": {"datum": -12}}},
            {"data": {"values": [{}]}, "mark": {"type": "point", "shape": "M1.4,-1L0,0L1.4,1Z", "size": 196, "filled": true, "color": "#a31818", "opacity": 1}, "encoding": {"x": {"datum": 8.5}, "y": {"datum": -12}}},
            {"data": {"name": "t2"}, "transform": [{"filter": "datum.f == 8.5"}], "mark": {"type": "text", "align": "left", "dx": 3, "dy": -3, "font": "DejaVu Sans", "fontSize": 14, "color": "#a31818"},
             "encoding": {"x": {"field": "f", "type": "quantitative"}, "y": {"field": "v", "type": "quantitative"}, "text": {"value": "2"}}}
          ]},
          {"data": {"name": "m2"}, "mark": {"type": "text", "align": "right", "baseline": "middle", "font": "Liberation Mono", "fontSize": 16.7, "color": "#a31818"},
           "encoding": {"x": {"datum": 5.614}, "y": {"field": "m", "type": "quantitative", "scale": {"domain": [0.538, 21.94], "reverse": true, "nice": false, "zero": false}, "axis": null}, "text": {"field": "row", "type": "nominal"}}}
         ],
         "resolve": {"scale": {"y": "independent"}}},
        {"width": 439, "height": 44, "data": {"values": [{"t": "Tr4 S22 SWR 350.0m/ Ref 1.000 [F2]"}]},
         "mark": {"type": "text", "align": "left", "font": "Liberation Mono", "fontSize": 16.5, "color": "#a52aa5"},
         "encoding": {"x": {"datum": -1.0945, "scale": {"domain": [0.4, 8.5], "nice": false, "zero": false}, "axis": null}, "text": {"field": "t", "type": "nominal"}}},
        {"width": 439, "height": 324,
         "view": {"fill": "white", "stroke": "#8a8a8a", "strokeWidth": 1.5},
         "layer": [
          {"layer": [
            {"data": {"name": "t4"}, "mark": {"type": "line", "color": "#a52aa5", "strokeWidth": 1.2, "clip": true},
             "encoding": {"x": {"field": "f", "type": "quantitative", "scale": {"domain": [0.4, 8.5], "nice": false, "zero": false}, "axis": {"values": [0.4,1.21,2.02,2.83,3.64,4.45,5.26,6.07,6.88,7.69,8.5], "labels": false, "title": null}},
                          "y": {"field": "v", "type": "quantitative", "scale": {"domain": [1, 4.5], "nice": false, "zero": false}, "axis": {"values": [1,1.35,1.7,2.05,2.4,2.75,3.1,3.45,3.8,4.15,4.5], "format": ".4r", "title": null, "labelColor": {"condition": {"test": "datum.value == 1", "value": "#a52aa5"}, "value": "#5a5a5a"}}}}},
            {"data": {"name": "m4"}, "transform": [{"filter": "datum.m < 8"}], "mark": {"type": "point", "shape": "M0,0L-0.9,3L0.9,3Z", "size": 100, "filled": false, "strokeWidth": 1.1, "color": "#a52aa5", "opacity": 1},
             "encoding": {"x": {"field": "f", "type": "quantitative"}, "y": {"field": "v", "type": "quantitative"}}},
            {"data": {"name": "m4"}, "transform": [{"filter": "datum.m < 8"}], "mark": {"type": "text", "dy": 10, "font": "DejaVu Sans", "fontSize": 14, "color": "#a52aa5"},
             "encoding": {"x": {"field": "f", "type": "quantitative"}, "y": {"field": "v", "type": "quantitative"}, "text": {"field": "m", "type": "nominal"}}},
            {"data": {"name": "m4"}, "transform": [{"filter": "datum.m == 8"}], "mark": {"type": "point", "shape": "M0,-0.4L-1.1,-2L1.1,-2Z", "size": 100, "filled": false, "strokeWidth": 1.1, "color": "#a52aa5", "opacity": 1},
             "encoding": {"x": {"field": "f", "type": "quantitative"}, "y": {"field": "v", "type": "quantitative"}}},
            {"data": {"name": "m4"}, "transform": [{"filter": "datum.m == 8"}], "mark": {"type": "text", "dy": -17, "font": "DejaVu Sans", "fontSize": 14, "color": "#a52aa5"},
             "encoding": {"x": {"field": "f", "type": "quantitative"}, "y": {"field": "v", "type": "quantitative"}, "text": {"field": "m", "type": "nominal"}}},
            {"data": {"name": "m4"}, "transform": [{"filter": "datum.m < 8"}], "mark": {"type": "point", "shape": "M0,0.4L-1.2,2L1.2,2Z", "size": 100, "filled": false, "strokeWidth": 1, "color": "#a52aa5", "opacity": 1},
             "encoding": {"x": {"field": "f", "type": "quantitative"}, "y": {"datum": 1}}},
            {"data": {"name": "m4"}, "transform": [{"filter": "datum.m == 8"}], "mark": {"type": "point", "shape": "M0,0.4L-1.2,2L1.2,2Z", "size": 100, "filled": true, "color": "#a52aa5", "opacity": 1},
             "encoding": {"x": {"field": "f", "type": "quantitative"}, "y": {"datum": 1}}},
            {"data": {"values": [{}]}, "mark": {"type": "point", "shape": "M-1.4,-1L0,0L-1.4,1Z", "size": 196, "filled": true, "color": "#a52aa5", "opacity": 1}, "encoding": {"x": {"datum": 0.4}, "y": {"datum": 1}}},
            {"data": {"values": [{}]}, "mark": {"type": "point", "shape": "M1.4,-1L0,0L1.4,1Z", "size": 196, "filled": true, "color": "#a52aa5", "opacity": 1}, "encoding": {"x": {"datum": 8.5}, "y": {"datum": 1}}},
            {"data": {"name": "t4"}, "transform": [{"filter": "datum.f == 8.5"}], "mark": {"type": "text", "align": "left", "dx": 3, "dy": -3, "font": "DejaVu Sans", "fontSize": 14, "color": "#a52aa5"},
             "encoding": {"x": {"field": "f", "type": "quantitative"}, "y": {"field": "v", "type": "quantitative"}, "text": {"value": "4"}}}
          ]},
          {"data": {"name": "m4"}, "mark": {"type": "text", "align": "right", "baseline": "middle", "font": "Liberation Mono", "fontSize": 16.7, "color": "#a52aa5"},
           "encoding": {"x": {"datum": 5.059}, "y": {"field": "m", "type": "quantitative", "scale": {"domain": [0.538, 21.94], "reverse": true, "nice": false, "zero": false}, "axis": null}, "text": {"field": "row", "type": "nominal"}}}
         ],
         "resolve": {"scale": {"y": "independent"}}}
      ], "spacing": 0, "bounds": "flush"}
    ], "spacing": 16},
    {"width": 2, "height": 740, "view": {"fill": "#c8c8c8"}, "data": {"values": [{}]}, "mark": {"type": "point", "opacity": 0}},
    {"width": 3, "height": 740, "view": {"fill": "#505050"}, "data": {"values": [{}]}, "mark": {"type": "point", "opacity": 0}},
    {"vconcat": [
      {"width": 165, "height": 512,
       "view": {"fill": "#505050"},
       "data": {"values": [
         {"key": "Auto Scale", "label": "Auto Scale", "val": null},
         {"key": "Auto Scale All", "label": "Auto Scale All", "val": null},
         {"key": "Divisions", "label": "Divisions", "val": "10"},
         {"key": "Scale/Div", "label": "Scale/Div", "val": "350.00 m/div"},
         {"key": "Reference Position", "label": "Reference Position", "val": "0 Div"},
         {"key": "Reference Value", "label": "Reference Value", "val": "1.0000"},
         {"key": "Marker -> Reference", "label": ["Marker ->", "Reference"], "val": null},
         {"key": "Electrical Delay", "label": "Electrical Delay", "val": "0.0000 s"},
         {"key": "Phase Offset", "label": "Phase Offset", "val": "0.0000 \u00b0"},
         {"key": "Return", "label": "Return", "val": null}
       ]},
       "encoding": {"y": {"field": "key", "type": "nominal", "sort": null, "axis": null, "scale": {"paddingInner": 0.05, "paddingOuter": 0}}},
       "layer": [
         {"mark": {"type": "bar", "stroke": "#8c8c8c", "strokeWidth": 1},
          "encoding": {"color": {"condition": {"test": "datum.key == 'Scale/Div'", "value": "#474747"}, "value": "#c9c9c9"}}},
         {"transform": [{"filter": "datum.val != null"}],
          "mark": {"type": "point", "shape": "M-1,-0.155L1,-0.155L1,0.155L-1,0.155Z", "size": 16900, "filled": true, "yOffset": 10, "stroke": "#9a9a9a", "strokeWidth": 1, "opacity": 1},
          "encoding": {"color": {"condition": {"test": "datum.key == 'Scale/Div'", "value": "#5e5e5e"}, "value": "#e6e6e6"}}},
         {"transform": [{"filter": "datum.val != null"}],
          "mark": {"type": "text", "dy": -11, "font": "DejaVu Sans", "fontSize": 13},
          "encoding": {"text": {"field": "label", "type": "nominal"}, "color": {"condition": {"test": "datum.key == 'Scale/Div'", "value": "#ffffff"}, "value": "#111111"}}},
         {"transform": [{"filter": "datum.val != null"}],
          "mark": {"type": "text", "dy": 10, "font": "DejaVu Sans", "fontSize": 13},
          "encoding": {"text": {"field": "val", "type": "nominal"}, "color": {"condition": {"test": "datum.key == 'Scale/Div'", "value": "#ffffff"}, "value": "#111111"}}},
         {"transform": [{"filter": "datum.val == null"}],
          "mark": {"type": "text", "font": "DejaVu Sans", "fontSize": 13, "lineHeight": 20},
          "encoding": {"text": {"field": "label", "type": "nominal"}, "color": {"value": "#111111"}}}
       ]},
      {"width": 165, "height": 228, "view": {"fill": "#505050"}, "data": {"values": [{}]}, "mark": {"type": "point", "opacity": 0}}
    ], "spacing": 0},
    {"width": 7, "height": 740, "view": {"fill": "#505050"}, "data": {"values": [{}]}, "mark": {"type": "point", "opacity": 0}}
  ], "spacing": 0},
  {"hconcat": [
    {"width": 20, "height": 19, "view": {"fill": "#d6d6d6", "stroke": "#9a9a9a", "strokeWidth": 1}, "data": {"values": [{"t": "1"}]}, "mark": {"type": "text", "font": "Liberation Sans", "fontSize": 13}, "encoding": {"text": {"field": "t", "type": "nominal"}}},
    {"width": 130, "height": 19, "view": {"fill": "#d6d6d6"}, "data": {"values": [{"t": "Start 400 MHz"}]}, "mark": {"type": "text", "font": "Liberation Sans", "fontSize": 13}, "encoding": {"text": {"field": "t", "type": "nominal"}}},
    {"width": 343, "height": 19, "view": {"fill": "#d6d6d6"}, "data": {"values": [{}]}, "mark": {"type": "point", "opacity": 0}},
    {"width": 100, "height": 19, "view": {"fill": "#d6d6d6"}, "data": {"values": [{"t": "IFBW 70 kHz"}]}, "mark": {"type": "text", "font": "Liberation Sans", "fontSize": 13}, "encoding": {"text": {"field": "t", "type": "nominal"}}},
    {"width": 358, "height": 19, "view": {"fill": "#d6d6d6"}, "data": {"values": [{}]}, "mark": {"type": "point", "opacity": 0}},
    {"width": 105, "height": 19, "view": {"fill": "#d6d6d6"}, "data": {"values": [{"t": "Stop 8.5 GHz"}]}, "mark": {"type": "text", "font": "Liberation Sans", "fontSize": 13}, "encoding": {"text": {"field": "t", "type": "nominal"}}},
    {"width": 30, "height": 19, "view": {"fill": "#34346e"}, "data": {"values": [{"t": "C?"}]}, "mark": {"type": "text", "font": "Liberation Sans", "fontSize": 13, "color": "#ffffff"}, "encoding": {"text": {"field": "t", "type": "nominal"}}},
    {"width": 18, "height": 19, "view": {"fill": "#d6d6d6"}, "data": {"values": [{"t": "!"}]}, "mark": {"type": "text", "font": "Liberation Sans", "fontSize": 13}, "encoding": {"text": {"field": "t", "type": "nominal"}}},
    {"width": 183, "height": 19, "view": {"fill": "#505050"}, "data": {"values": [{}]}, "mark": {"type": "point", "opacity": 0}}
  ], "spacing": 0}
]
}
